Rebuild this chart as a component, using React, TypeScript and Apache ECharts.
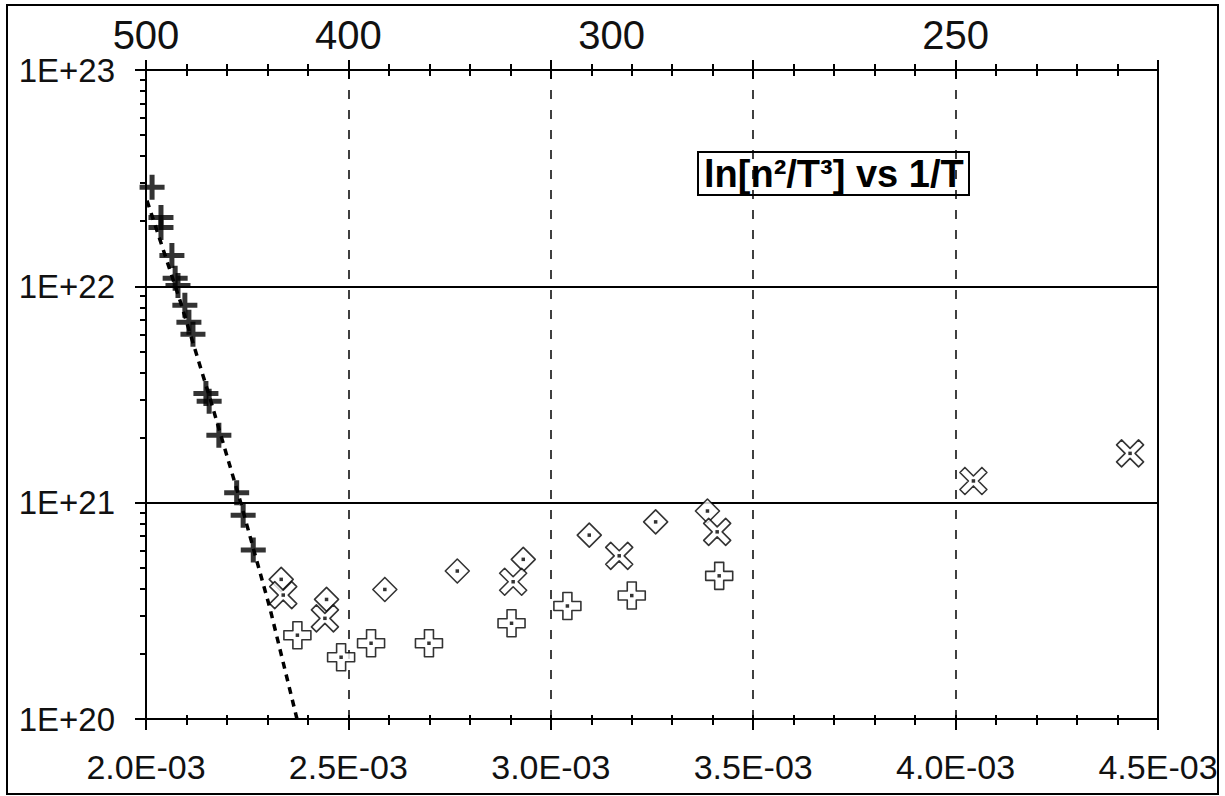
import React, { useEffect, useRef } from 'react';
import * as echarts from 'echarts';

// ---------------- data ----------------
// filled bold "+" points (high-temperature branch)
const boldPlusX = [2.015e-3, 2.037e-3, 2.037e-3, 2.064e-3, 2.072e-3, 2.079e-3, 2.096e-3, 2.106e-3, 2.116e-3, 2.148e-3, 2.156e-3, 2.18e-3, 2.224e-3, 2.24e-3, 2.265e-3];
const boldPlusY = [2.87e22, 2.08e22, 1.87e22, 1.39e22, 1.09e22, 1.01e22, 8.17e21, 6.82e21, 6.0e21, 3.2e21, 2.94e21, 2.05e21, 1.11e21, 8.75e20, 6.04e20];

// open "+" with centre dot
const openPlusX = [2.374e-3, 2.482e-3, 2.556e-3, 2.699e-3, 2.903e-3, 3.041e-3, 3.2e-3, 3.416e-3];
const openPlusY = [2.44e20, 1.93e20, 2.24e20, 2.24e20, 2.77e20, 3.33e20, 3.72e20, 4.59e20];

// open diamond with centre dot
const diamondX = [2.334e-3, 2.446e-3, 2.59e-3, 2.769e-3, 2.932e-3, 3.095e-3, 3.259e-3, 3.387e-3];
const diamondY = [4.42e20, 3.57e20, 3.97e20, 4.83e20, 5.47e20, 7.08e20, 8.15e20, 9.15e20];

// open "x" with centre dot
const crossX = [2.339e-3, 2.442e-3, 2.907e-3, 3.169e-3, 3.411e-3, 4.044e-3, 4.431e-3];
const crossY = [3.74e20, 2.92e20, 4.31e20, 5.68e20, 7.33e20, 1.26e21, 1.69e21];

// dashed fit line
const fitX = [2.0025e-3, 2.084e-3, 2.158e-3, 2.232e-3, 2.306e-3, 2.373e-3];
const fitY = [2.49e22, 8.6e21, 3.04e21, 1.03e21, 3.26e20, 1.0e20];

// axes
const xMin = 2.0e-3;
const xMax = 4.5e-3;
const xStep = 0.5e-3;
const yMin = 1e20;
const yMax = 1e23;
const yDecades = [20, 21, 22];
const yMinorMantissas = [2, 3, 4, 5, 6, 7, 8, 9];
const topTickValues = [2.0e-3, 2.5e-3, 3.15e-3, 4.0e-3];
const topTickLabels = ['500', '400', '300', '250'];
const chartTitle = 'ln[n\u00B2/T\u00B3] vs 1/T';

// ---------------- helpers ----------------
const FONT = 'Arial, "Liberation Sans", sans-serif';
const zip = (xs: number[], ys: number[]) => xs.map((x, i) => [x, ys[i]]);

const fmtX = (v: number) => {
  if (v === 0) return '0';
  const e = Math.floor(Math.log10(Math.abs(v)) + 1e-9);
  const m = v / Math.pow(10, e);
  return m.toFixed(1) + 'E' + (e < 0 ? '-' : '+') + String(Math.abs(e)).padStart(2, '0');
};
const fmtY = (v: number) => '1E+' + Math.round(Math.log10(v));
const fmtTop = (v: number) => {
  const i = topTickValues.findIndex((t) => Math.abs(t - v) < 1e-9);
  return i >= 0 ? topTickLabels[i] : '';
};
const yMinorTicks = yDecades.flatMap((d) => yMinorMantissas.map((m) => d + Math.log10(m)));

const SYM_BOLD_PLUS = 'path://M-1.2,-6 L1.2,-6 L1.2,-1.2 L6,-1.2 L6,1.2 L1.2,1.2 L1.2,6 L-1.2,6 L-1.2,1.2 L-6,1.2 L-6,-1.2 L-1.2,-1.2 Z';
const SYM_OPEN_PLUS = 'path://M-1,-3 L1,-3 L1,-1 L3,-1 L3,1 L1,1 L1,3 L-1,3 L-1,1 L-3,1 L-3,-1 L-1,-1 Z';
const SYM_DIAMOND = 'path://M0,-1 L1,0 L0,1 L-1,0 Z';
const SYM_CROSS =
  'path://M3.818,-2.404 L1.414,0 L3.818,2.404 L2.404,3.818 L0,1.414 L-2.404,3.818 L-3.818,2.404 L-1.414,0 L-3.818,-2.404 L-2.404,-3.818 L0,-1.414 L2.404,-3.818 Z';

const black = '#000';
const axisLine = { show: true, onZero: false, lineStyle: { color: black, width: 2 } };
const tickStyle = { color: black, width: 2 };

const openStyle = { color: '#fff', borderColor: black, borderWidth: 1.6, borderJoin: 'round' as const };
const dotSeries = (data: number[][]) => ({
  type: 'scatter',
  data,
  symbol: 'rect',
  symbolSize: 3.5,
  itemStyle: { color: black },
  silent: true,
});

export default function App() {
  const ref = useRef<HTMLDivElement>(null);

  useEffect(() => {
    if (!ref.current) return;
    const chart = echarts.init(ref.current, undefined, { renderer: 'svg' });
    const option: any = {
      animation: false,
      backgroundColor: '#fff',
      textStyle: { fontFamily: FONT },
      title: {
        text: chartTitle,
        left: 698,
        top: 152,
        padding: [3, 6, 2, 6],
        borderColor: black,
        borderWidth: 2,
        textStyle: { fontSize: 38, fontWeight: 'bold', color: black, fontFamily: FONT },
      },
      graphic: [
        {
          type: 'rect',
          shape: { x: 7, y: 5, width: 1211, height: 789 },
          style: { fill: 'none', stroke: black, lineWidth: 2 },
          silent: true,
        },
      ],
      grid: { left: 146, top: 70, width: 1012, height: 649, containLabel: false },
      xAxis: [
        {
          type: 'value',
          position: 'bottom',
          min: xMin,
          max: xMax,
          interval: xStep,
          axisLine,
          axisTick: { show: true, length: 11, lineStyle: tickStyle },
          minorTick: { show: true, splitNumber: 5, length: 6, lineStyle: tickStyle },
          axisLabel: { formatter: fmtX, fontSize: 34, color: '#111', margin: 31, fontFamily: FONT },
          splitLine: { show: true, lineStyle: { color: black, width: 1.5, type: [9, 11] } },
          minorSplitLine: { show: false },
        },
        {
          type: 'value',
          position: 'bottom',
          min: xMin,
          max: xMax,
          interval: xStep,
          axisLine: { show: false, onZero: false },
          axisTick: { show: true, inside: true, length: 4, lineStyle: tickStyle },
          minorTick: { show: true, splitNumber: 5, length: 4, lineStyle: tickStyle },
          axisLabel: { show: false },
          splitLine: { show: false },
        },
        {
          type: 'value',
          position: 'top',
          min: xMin,
          max: xMax,
          interval: xStep,
          axisLine,
          axisTick: { show: true, length: 10, lineStyle: tickStyle },
          minorTick: { show: true, splitNumber: 5, length: 6, lineStyle: tickStyle },
          axisLabel: {
            customValues: topTickValues,
            formatter: fmtTop,
            fontSize: 40,
            color: '#111',
            margin: 15,
            fontFamily: FONT,
          },
          splitLine: { show: false },
        },
        {
          type: 'value',
          position: 'top',
          min: xMin,
          max: xMax,
          interval: xStep,
          axisLine: { show: false, onZero: false },
          axisTick: { show: true, inside: true, length: 9, lineStyle: tickStyle },
          minorTick: { show: true, splitNumber: 5, length: 6, lineStyle: tickStyle },
          axisLabel: { show: false },
          splitLine: { show: false },
        },
      ],
      yAxis: [
        {
          type: 'log',
          logBase: 10,
          position: 'left',
          min: yMin,
          max: yMax,
          axisLine,
          axisTick: { show: true, length: 11, lineStyle: tickStyle },
          axisLabel: { formatter: fmtY, fontSize: 33, color: '#111', margin: 31, fontFamily: FONT },
          splitLine: { show: true, lineStyle: { color: black, width: 2 } },
          minorTick: { show: false },
        },
        {
          type: 'value',
          position: 'left',
          min: 20,
          max: 23,
          axisLine: { show: false, onZero: false },
          axisTick: { show: true, length: 6, lineStyle: tickStyle, customValues: yMinorTicks },
          axisLabel: { show: false },
          splitLine: { show: false },
        },
        {
          type: 'log',
          logBase: 10,
          position: 'right',
          min: yMin,
          max: yMax,
          axisLine,
          axisTick: { show: false },
          axisLabel: { show: false },
          splitLine: { show: false },
        },
      ],
      series: [
        {
          type: 'line',
          data: zip(fitX, fitY),
          symbol: 'none',
          showSymbol: false,
          lineStyle: { color: black, width: 3.5, type: [7, 6] },
          silent: true,
        },
        {
          type: 'scatter',
          data: zip(diamondX, diamondY),
          symbol: SYM_DIAMOND,
          symbolSize: 24,
          itemStyle: openStyle,
          silent: true,
        },
        dotSeries(zip(diamondX, diamondY)),
        {
          type: 'scatter',
          data: zip(crossX, crossY),
          symbol: SYM_CROSS,
          symbolSize: 27,
          itemStyle: openStyle,
          silent: true,
        },
        dotSeries(zip(crossX, crossY)),
        {
          type: 'scatter',
          data: zip(openPlusX, openPlusY),
          symbol: SYM_OPEN_PLUS,
          symbolSize: 27,
          itemStyle: openStyle,
          silent: true,
        },
        dotSeries(zip(openPlusX, openPlusY)),
        {
          type: 'scatter',
          data: zip(boldPlusX, boldPlusY),
          symbol: SYM_BOLD_PLUS,
          symbolSize: 25,
          itemStyle: { color: black },
          silent: true,
        },
      ],
    };
    chart.setOption(option);
    return () => chart.dispose();
  }, []);

  return (
    <div
      ref={ref}
      style={{ position: 'absolute', left: 0, top: 0, width: 1225, height: 796, background: '#fff' }}
    />
  );
}
